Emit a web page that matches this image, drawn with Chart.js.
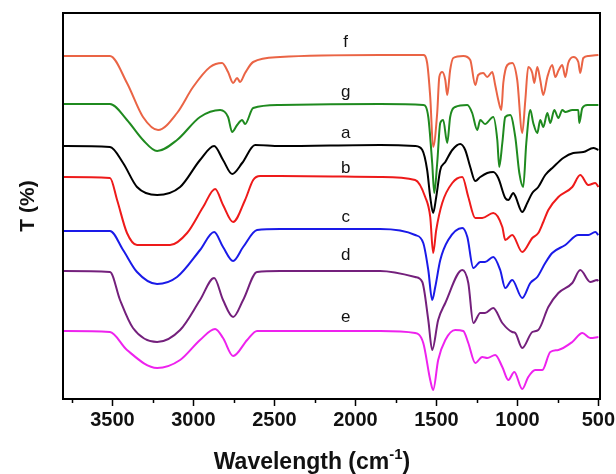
<!DOCTYPE html>
<html>
<head>
<meta charset="utf-8">
<script src="https://cdn.jsdelivr.net/npm/chart.js@4/dist/chart.umd.min.js"></script>
<style>
  html, body { margin: 0; padding: 0; background: #fff; }
  #wrap { width: 616px; height: 474px; }
</style>
</head>
<body>
<div id="wrap"><canvas id="ftir"></canvas></div>
<script>
// wavenumber (cm-1), offset transmittance (arbitrary units)
const curveF = [[3805,349],[3515,349],[3410,322],[3311,288],[3218,275],[3101,292],[3002,318],[2897,338],[2823,342],[2786,333],[2755,322],[2730,327],[2712,323],[2681,332],[2631,343],[2465,348],[1847,350],[1581,350],[1557,342],[1538,308],[1520,258],[1495,292],[1482,328],[1464,333],[1445,325],[1433,310],[1415,335],[1396,347],[1334,349],[1291,345],[1260,320],[1242,330],[1211,332],[1186,328],[1155,333],[1137,320],[1118,305],[1099,295],[1087,322],[1062,340],[1032,342],[1001,325],[970,272],[951,305],[933,338],[908,332],[896,322],[877,338],[859,325],[840,310],[815,328],[785,340],[766,328],[745,335],[723,340],[704,328],[686,342],[655,348],[624,343],[612,332],[593,347],[560,349],[500,350]];
const curveG = [[3805,301],[3515,301],[3410,285],[3311,265],[3224,254],[3101,265],[2959,288],[2835,295],[2786,288],[2761,273],[2730,280],[2699,285],[2681,281],[2631,297],[2465,300],[1847,301],[1581,300],[1550,288],[1526,242],[1513,212],[1495,242],[1476,282],[1458,285],[1433,262],[1415,288],[1384,298],[1309,300],[1279,292],[1248,275],[1229,285],[1200,281],[1149,288],[1124,265],[1112,238],[1093,262],[1075,288],[1044,290],[1013,268],[988,232],[964,218],[945,262],[920,295],[902,282],[877,272],[859,285],[840,278],[815,292],[797,282],[772,295],[747,287],[723,295],[704,293],[661,295],[624,295],[618,282],[599,297],[568,300],[500,300]];
const curveA = [[3805,259],[3515,258],[3434,242],[3348,218],[3224,210],[3082,218],[2959,245],[2872,259],[2817,245],[2761,231],[2699,242],[2619,260],[2465,259],[1847,260],[1631,259],[1587,255],[1557,235],[1538,208],[1520,192],[1501,208],[1476,235],[1445,243],[1402,255],[1353,261],[1322,255],[1291,238],[1260,224],[1229,228],[1186,232],[1149,233],[1118,227],[1075,207],[1056,205],[1025,212],[1013,209],[970,193],[939,202],[908,212],[871,218],[828,230],[778,238],[717,247],[655,252],[593,253],[531,257],[500,255]];
const curveB = [[3805,228],[3515,227],[3471,205],[3410,172],[3348,160],[3144,160],[3039,172],[2940,198],[2866,216],[2817,200],[2755,183],[2681,205],[2631,225],[2588,229],[2465,229],[1847,228],[1631,225],[1569,208],[1538,188],[1520,152],[1501,175],[1464,202],[1402,222],[1340,228],[1303,208],[1260,187],[1217,187],[1149,192],[1093,178],[1075,165],[1032,170],[970,153],[908,167],[871,172],[840,183],[809,195],[747,208],[661,218],[612,230],[562,220],[519,222],[500,218]];
const curveC = [[3805,174],[3515,174],[3434,155],[3348,133],[3224,121],[3101,128],[2959,155],[2872,173],[2817,158],[2755,144],[2693,158],[2607,175],[2465,176],[1847,176],[1631,170],[1581,162],[1550,135],[1526,105],[1507,118],[1476,145],[1427,165],[1340,177],[1309,168],[1272,137],[1229,143],[1200,143],[1149,148],[1106,135],[1075,117],[1032,125],[970,107],[920,122],[877,128],[828,142],[785,152],[704,160],[624,170],[562,170],[519,173],[500,170]];
const curveD = [[3805,134],[3515,133],[3453,105],[3373,77],[3224,63],[3082,75],[2959,105],[2872,127],[2817,105],[2755,88],[2693,105],[2607,133],[2465,134],[1847,134],[1631,128],[1587,123],[1550,85],[1526,55],[1489,85],[1445,102],[1340,135],[1303,122],[1272,82],[1229,92],[1200,92],[1149,97],[1093,82],[1032,73],[1013,72],[970,57],[908,73],[871,75],[809,98],[747,112],[661,122],[612,135],[550,123],[507,125],[500,124]];
const curveE = [[3805,74],[3515,73],[3410,55],[3224,37],[3082,45],[2959,65],[2866,76],[2817,67],[2755,49],[2668,65],[2607,74],[2465,74],[1847,74],[1631,72],[1581,62],[1538,25],[1520,15],[1489,45],[1445,65],[1384,75],[1334,74],[1303,62],[1260,42],[1217,48],[1186,47],[1137,50],[1093,38],[1056,25],[1019,33],[970,16],[933,28],[890,35],[846,35],[797,53],[747,55],[661,63],[599,72],[550,67],[500,68]];

const seriesNames = ['f', 'g', 'a', 'b', 'c', 'd', 'e'];
const seriesColors = ['#ea6445', '#1f8a1f', '#000000', '#ee1a1a', '#1a1ae8', '#74207c', '#ee22ee'];
const labelT = [363, 313, 272, 237, 188, 150, 88];
const labelWn = 2060;
const majorTicks = [3500, 3000, 2500, 2000, 1500, 1000, 500];
const minorTicks = [3750, 3250, 2750, 2250, 1750, 1250, 750];

const curves = [curveF, curveG, curveA, curveB, curveC, curveD, curveE];
const FONT = 'Arial, "Liberation Sans", sans-serif';

const datasets = curves.map((c, i) => ({
  label: seriesNames[i],
  data: c.map(p => ({ x: p[0], y: p[1] })),
  borderColor: seriesColors[i],
  borderWidth: 2,
  pointRadius: 0,
  tension: 0.4,
  cubicInterpolationMode: 'monotone',
  fill: false
}));

const decor = {
  id: 'decor',
  afterDatasetsDraw(chart) {
    const { ctx, chartArea: a, scales: { x, y } } = chart;
    ctx.save();
    // curve names
    ctx.fillStyle = '#111';
    ctx.font = '17px ' + FONT;
    ctx.textAlign = 'center';
    ctx.textBaseline = 'middle';
    seriesNames.forEach((n, i) => {
      ctx.fillText(n, x.getPixelForValue(labelWn), y.getPixelForValue(labelT[i]));
    });
    // frame
    ctx.strokeStyle = '#000';
    ctx.lineWidth = 2;
    ctx.strokeRect(a.left, a.top, a.right - a.left, a.bottom - a.top);
    // tick marks below the axis
    ctx.lineWidth = 1.5;
    ctx.beginPath();
    majorTicks.forEach(v => {
      const px = Math.round(x.getPixelForValue(v)) + 0.5;
      ctx.moveTo(px, a.bottom); ctx.lineTo(px, a.bottom + 7);
    });
    minorTicks.forEach(v => {
      const px = Math.round(x.getPixelForValue(v)) + 0.5;
      ctx.moveTo(px, a.bottom); ctx.lineTo(px, a.bottom + 4);
    });
    ctx.stroke();
    // y title
    ctx.save();
    ctx.translate(28, (a.top + a.bottom) / 2);
    ctx.rotate(-Math.PI / 2);
    ctx.font = 'bold 21px ' + FONT;
    ctx.textAlign = 'center';
    ctx.textBaseline = 'middle';
    ctx.fillText('T (%)', 0, 0);
    ctx.restore();
    // x title with superscript
    ctx.textAlign = 'left';
    ctx.textBaseline = 'alphabetic';
    const big = 'bold 23px ' + FONT;
    const small = 'bold 15px ' + FONT;
    const t1 = 'Wavelength (cm', t2 = '-1', t3 = ')';
    ctx.font = big; const w1 = ctx.measureText(t1).width; const w3 = ctx.measureText(t3).width;
    ctx.font = small; const w2 = ctx.measureText(t2).width;
    const cx = 312;
    let tx = cx - (w1 + w2 + w3) / 2;
    const base = 469;
    ctx.font = big; ctx.fillText(t1, tx, base); tx += w1;
    ctx.font = small; ctx.fillText(t2, tx, base - 10); tx += w2;
    ctx.font = big; ctx.fillText(t3, tx, base);
    ctx.restore();
  }
};

new Chart(document.getElementById('ftir'), {
  type: 'line',
  data: { datasets },
  options: {
    responsive: true,
    maintainAspectRatio: false,
    animation: false,
    layout: { padding: { top: 13, right: 16, left: 0, bottom: 0 } },
    plugins: { legend: { display: false }, tooltip: { enabled: false } },
    scales: {
      x: {
        type: 'linear',
        reverse: true,
        min: 490,
        max: 3805,
        afterBuildTicks: s => { s.ticks = majorTicks.map(v => ({ value: v })); },
        afterFit: s => { s.height = 75; s.paddingLeft = 0; s.paddingRight = 0; },
        grid: { display: false, drawTicks: false },
        border: { display: false },
        ticks: {
          padding: 9,
          maxRotation: 0,
          color: '#111',
          callback: v => String(v),
          font: { family: FONT, size: 20, weight: 'bold' }
        }
      },
      y: {
        min: 6,
        max: 392,
        afterFit: s => { s.width = 63; },
        grid: { display: false, drawTicks: false },
        border: { display: false },
        ticks: { display: false }
      }
    }
  },
  plugins: [decor]
});
</script>
</body>
</html>
